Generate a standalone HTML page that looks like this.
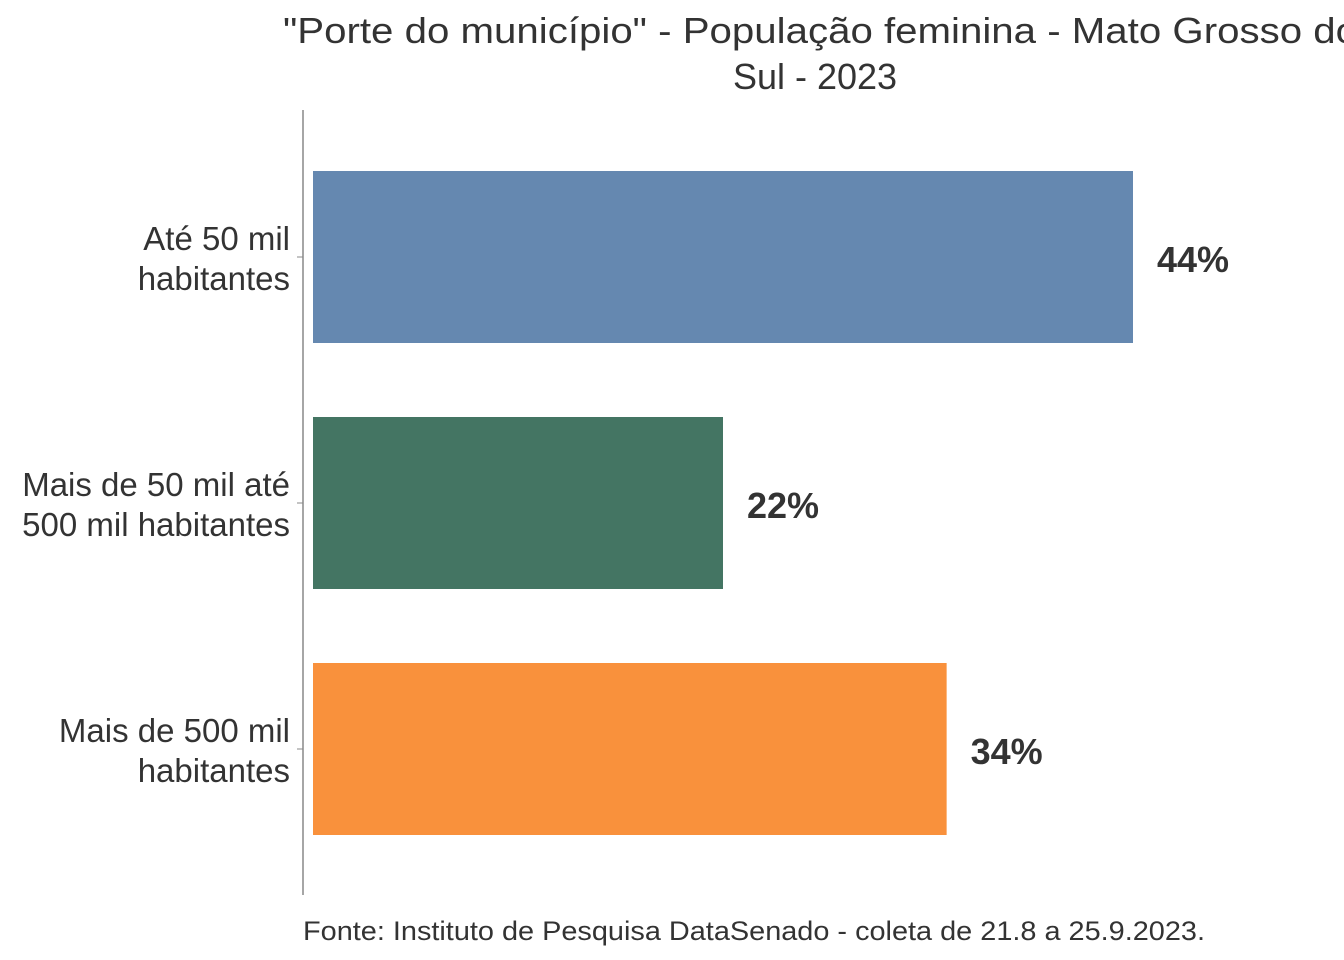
<!DOCTYPE html>
<html><head><meta charset="utf-8"><style>
html,body{margin:0;padding:0;background:#fff;}
svg{display:block;font-family:"Liberation Sans",sans-serif;}
</style></head><body>
<svg id="chart" width="1344" height="960" viewBox="0 0 1344 960">
<text x="283" y="43" font-size="36" fill="#333" textLength="1075" lengthAdjust="spacingAndGlyphs">"Porte do município" - População feminina - Mato Grosso do</text>
<text x="815" y="89" font-size="36" fill="#333" text-anchor="middle">Sul - 2023</text>
<line x1="303" y1="110" x2="303" y2="895" stroke="#888" stroke-width="1.5"/>
<g id="bars"></g>
<text x="303" y="940" font-size="27" fill="#333" textLength="902" lengthAdjust="spacingAndGlyphs">Fonte: Instituto de Pesquisa DataSenado - coleta de 21.8 a 25.9.2023.</text>
</svg>
<script>
const categories = [["Até 50 mil","habitantes"],["Mais de 50 mil até","500 mil habitantes"],["Mais de 500 mil","habitantes"]];
const values = [44, 22, 34];
const valueLabels = ["44%","22%","34%"];
const colors = ["#6588b0","#447563","#f9913c"];
const x0 = 313, pxPer = 820/44;
const xs = v => x0 + v*pxPer;
const yc = i => 257 + i*246;
const g = document.getElementById('bars');
const NS = "http://www.w3.org/2000/svg";
values.forEach((v,i)=>{
  const r = document.createElementNS(NS,'rect');
  r.setAttribute('x',x0); r.setAttribute('y',yc(i)-86);
  r.setAttribute('width',xs(v)-x0); r.setAttribute('height',172);
  r.setAttribute('fill',colors[i]);
  
  
  g.appendChild(r);
  const t = document.createElementNS(NS,'text');
  t.setAttribute('x',xs(v)+24); t.setAttribute('y',yc(i)+15);
  t.setAttribute('font-size','36'); t.setAttribute('font-weight','bold'); t.setAttribute('fill','#333');
  t.textContent = valueLabels[i];
  
  
  g.appendChild(t);
  const tk = document.createElementNS(NS,'line');
  tk.setAttribute('x1',297); tk.setAttribute('x2',303); tk.setAttribute('y1',yc(i)); tk.setAttribute('y2',yc(i));
  tk.setAttribute('stroke','#888');
  
  
  g.appendChild(tk);
  categories[i].forEach((ln,j)=>{
    const l = document.createElementNS(NS,'text');
    l.setAttribute('x',290); l.setAttribute('y',yc(i)-7+j*40);
    l.setAttribute('font-size','33'); l.setAttribute('fill','#333'); l.setAttribute('text-anchor','end');
    l.textContent = ln;
    
    
    g.appendChild(l);
  });
});
</script>
</body></html>
